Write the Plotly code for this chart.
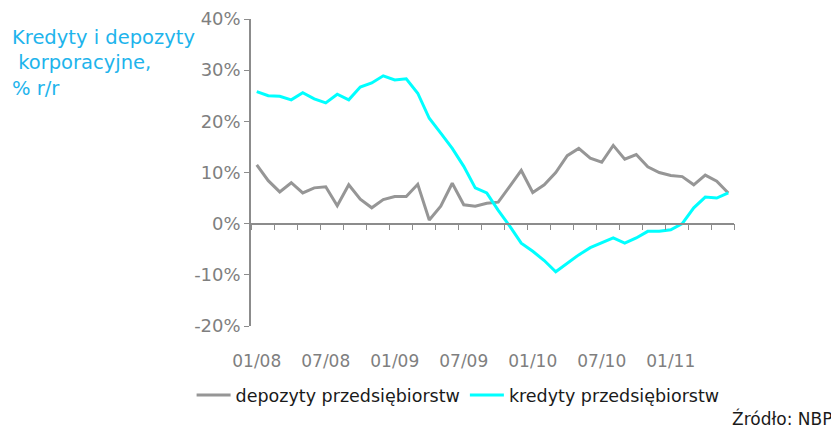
import plotly.graph_objects as go

months = [f"{m:02d}/{y:02d}" for y in (8, 9, 10, 11) for m in range(1, 13)][:42]
tick_labels = ["01/08", "07/08", "01/09", "07/09", "01/10", "07/10", "01/11"]
y_tick_vals = [-20, -10, 0, 10, 20, 30, 40]
y_tick_text = ["-20%", "-10%", "0%", "10%", "20%", "30%", "40%"]

depozyty = [11.5, 8.4, 6.2, 8.0, 6.0, 7.0, 7.2, 3.5, 7.6, 4.8, 3.1, 4.7, 5.3, 5.3,
            7.7, 0.7, 3.4, 7.9, 3.7, 3.4, 4.0, 4.2, 7.3, 10.4, 6.1, 7.6, 10.0, 13.3,
            14.7, 12.8, 12.0, 15.3, 12.6, 13.5, 11.1, 10.0, 9.4, 9.2, 7.6, 9.5, 8.3, 6.0]
kredyty = [25.8, 25.0, 24.9, 24.2, 25.6, 24.4, 23.6, 25.3, 24.2, 26.7, 27.5, 28.9, 28.1, 28.3,
           25.5, 20.6, 17.7, 14.7, 11.2, 7.0, 6.0, 2.6, -0.5, -3.8, -5.4, -7.2, -9.4, -7.7,
           -6.1, -4.7, -3.8, -2.8, -3.8, -2.8, -1.5, -1.5, -1.2, 0.0, 3.1, 5.2, 5.0, 6.0]

GRAY = "#969696"
CYAN = "#00FFFF"
AXIS = "#8c8c8c"
TXT = "#7f7f7f"
FONT = "DejaVu Sans"

fig = go.Figure()
# invisible helper trace to carry the zero-level axis with boundary ticks
fig.add_trace(go.Scatter(x=months, y=depozyty, xaxis="x2", mode="lines",
                         line=dict(width=0), opacity=0, showlegend=False,
                         hoverinfo="skip"))
fig.add_trace(go.Scatter(x=months, y=depozyty, name="depozyty przedsiębiorstw",
                         mode="lines", line=dict(color=GRAY, width=3)))
fig.add_trace(go.Scatter(x=months, y=kredyty, name="kredyty przedsiębiorstw",
                         mode="lines", line=dict(color=CYAN, width=3)))

# page body has an 8px margin, so the figure is 8px smaller and offset
fig.update_layout(
    width=831, height=424,
    margin=dict(l=243, r=105, t=11, b=106, autoexpand=False),
    plot_bgcolor="white", paper_bgcolor="white",
    font=dict(family=FONT, size=16, color=TXT),
    xaxis=dict(type="category", categoryorder="array", categoryarray=months,
               range=[-0.5, 41.5], tickvals=tick_labels, ticktext=tick_labels,
               showline=False, ticks="", showgrid=False, zeroline=False,
               tickfont=dict(size=17, color=TXT), ticklabelstandoff=23),
    xaxis2=dict(type="category", categoryorder="array", categoryarray=months,
                range=[-0.5, 41.5], overlaying="x", anchor="free", position=1/3,
                side="bottom", tickson="boundaries", ticks="outside", ticklen=6,
                tickcolor=AXIS, tickwidth=1, showticklabels=False, showline=True,
                linecolor=AXIS, linewidth=1.5, showgrid=False, zeroline=False),
    yaxis=dict(range=[-20, 40], tickvals=y_tick_vals, ticktext=y_tick_text,
               ticks="outside", ticklen=5, tickcolor=AXIS, showline=True,
               linecolor=AXIS, linewidth=1.5, showgrid=False, zeroline=False,
               tickfont=dict(size=18, color=TXT)),
    legend=dict(orientation="h", x=-0.123, xanchor="left", y=-0.225,
                yanchor="middle", font=dict(size=17.5, color="#1a1a1a"),
                itemwidth=34, bgcolor="rgba(0,0,0,0)"),
    showlegend=True,
)

fig.add_annotation(text="Kredyty i depozyty<br> korporacyjne,<br>% r/r",
                   xref="paper", yref="paper", x=(10 - 251) / 483, y=(326 - 24) / 307,
                   xanchor="left", yanchor="top", align="left", showarrow=False,
                   font=dict(family=FONT, size=19.5, color="#1EB4EC"))
fig.add_annotation(text="Źródło: NBP", xref="paper", yref="paper",
                   x=(834 - 251) / 483, y=(326 - 418) / 307, xanchor="right",
                   yanchor="middle", showarrow=False,
                   font=dict(family=FONT, size=17, color="#1a1a1a"))

fig.write_html("out.html")
